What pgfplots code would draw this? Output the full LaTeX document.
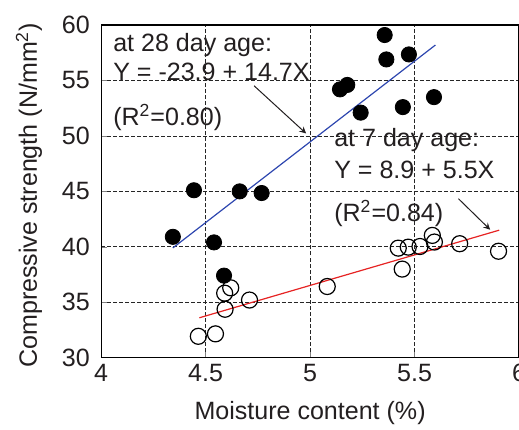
\documentclass[border=0pt]{standalone}
\usepackage{fontspec}
\setmainfont{Liberation Sans}
\usepackage{pgfplots}
\pgfplotsset{compat=1.18}
\definecolor{txt}{RGB}{35,31,32}
\definecolor{fitblue}{RGB}{45,70,175}
\definecolor{fitred}{RGB}{230,35,35}

\begin{document}
\begin{tikzpicture}
\begin{axis}[
  scale only axis,
  width=208.5pt, height=166pt,
  xmin=4, xmax=6, ymin=30, ymax=60,
  xtick={4,4.5,5,5.5,6}, ytick={30,35,...,60},
  xticklabels={4,4.5,5,5.5,6},
  font=\fontsize{12.5}{14}\selectfont,
  /pgf/number format/assume math mode=true,
  ticklabel style={text=txt, inner sep=0pt},
  xticklabel style={anchor=north, yshift=-3pt},
  yticklabel style={anchor=east, xshift=-5.5pt},
  xlabel={Moisture content (\%)},
  ylabel={Compressive strength (N/mm\textsuperscript{2})},
  xlabel style={text=txt, at={([yshift=-27.5pt]rel axis cs:0.5,0)}, anchor=center},
  ylabel style={text=txt, at={([xshift=-36pt,yshift=-2pt]rel axis cs:0,0.5)}, anchor=center},
  xtick pos=bottom, ytick pos=left,
  tick align=inside, major tick length=3pt,
  grid=major,
  grid style={dash pattern=on 2pt off 1pt, black!85, line width=0.4pt},
  axis line style={black, line width=0.6pt},
  clip=false,
]
% 28 day (filled)
\addplot[only marks, mark=*, mark size=3.8pt, black, mark options={fill=black}]
  coordinates {
    (5.357,59.1) (5.365,56.9) (5.473,57.35) (5.143,54.2) (5.178,54.6)
    (5.593,53.5) (5.444,52.6) (5.242,52.1) (4.444,45.1) (4.663,45.0)
    (4.768,44.85) (4.343,40.9) (4.540,40.4) (4.588,37.4)
  };
% 7 day (open)
\addplot[only marks, mark=o, mark size=4pt, black, line width=0.6pt, mark options={fill=white}]
  coordinates {
    (4.620,36.3) (4.465,31.93) (4.547,32.15) (4.593,34.37) (4.591,35.82)
    (4.710,35.2) (5.082,36.42) (5.422,39.88) (5.470,39.97) (5.441,37.99)
    (5.526,40.03) (5.585,41.03) (5.595,40.43) (5.716,40.28) (5.902,39.6)
  };
% fitted lines
\addplot[fitblue, line width=0.6pt] coordinates {(4.343,39.9) (5.6,58.2)};
\addplot[fitred, line width=0.6pt] coordinates {(4.47,33.6) (5.905,41.5)};

% annotations
\node[anchor=west, text=txt, inner sep=0pt] at (axis cs:4.056,58.19) {at 28 day age:};
\node[anchor=west, text=txt, inner sep=0pt] at (axis cs:4.056,55.75) {Y = -23.9 + 14.7X};
\node[anchor=west, text=txt, inner sep=0pt] at (axis cs:4.056,51.69) {(R\textsuperscript{2}=0.80)};
\draw[-stealth, line width=0.5pt, txt] (axis cs:4.732,54.52) -- (axis cs:4.981,50.22);

\node[anchor=west, text=txt, inner sep=0pt] at (axis cs:5.114,49.61) {at 7 day age:};
\node[anchor=west, text=txt, inner sep=0pt] at (axis cs:5.114,46.9) {Y = 8.9 + 5.5X};
\node[anchor=west, text=txt, inner sep=0pt] at (axis cs:5.114,43.0) {(R\textsuperscript{2}=0.84)};
\draw[-stealth, line width=0.5pt, txt] (axis cs:5.71,44.34) -- (axis cs:5.862,41.54);
\end{axis}
\pgfresetboundingbox
\path ([shift={(-50.5pt,-36pt)}]current axis.south west) rectangle ([shift={(0pt,12.5pt)}]current axis.north east);
\end{tikzpicture}
\end{document}
